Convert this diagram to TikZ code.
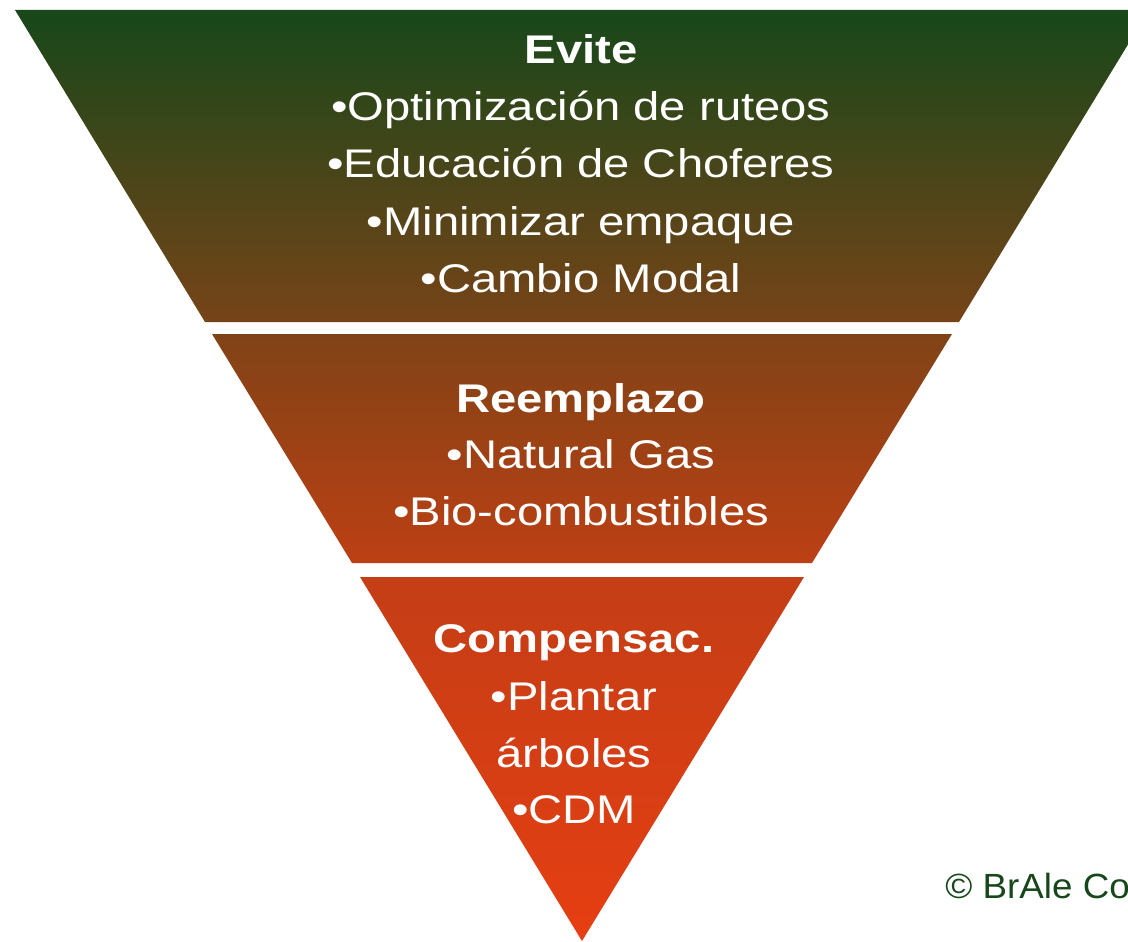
\documentclass[tikz,border=0pt]{standalone}
\usepackage{fontspec}
\setmainfont[FakeStretch=1.18]{Liberation Sans}
\newfontfamily\creditfont[FakeStretch=1.05]{Liberation Sans}
\usepackage{xcolor}
\definecolor{mygreen}{RGB}{23,71,26}
\definecolor{mybrown}{RGB}{118,68,24}
\definecolor{myrust}{RGB}{128,67,22}
\definecolor{myrustdark}{RGB}{188,64,20}
\definecolor{myred}{RGB}{196,62,22}
\definecolor{myorange}{RGB}{230,62,18}
\tikzset{
  layer top/.style={top color=mygreen,bottom color=mybrown},
  layer mid/.style={top color=myrust,bottom color=myrustdark},
  layer low/.style={top color=myred,bottom color=myorange},
  lay title/.style={anchor=base,inner sep=0,text=white,font=\fontsize{20}{24}\selectfont\bfseries},
  lay item/.style={anchor=base,inner sep=0,text=white,font=\fontsize{20}{24}\selectfont},
  credit/.style={anchor=base west,inner sep=0,text=mygreen,font=\creditfont\fontsize{17.5}{21}\selectfont}
}

\begin{document}
\begin{tikzpicture}[x=0.5pt,y=-0.5pt]
\useasboundingbox (0,0) rectangle (1128,941);
\clip (0,0) rectangle (1128,941);
% the three layers of the inverted pyramid
\shade[layer top] (15,10) -- (1149,10) -- (959,322) -- (205,322) -- cycle;
\shade[layer mid] (212,334) -- (952,334) -- (812,563) -- (352,563) -- cycle;
\shade[layer low] (360,577) -- (804,577) -- (582,941) -- cycle;
\path
(581,64)  node[lay title] (evite)  {Evite}
(581,121) node[lay item]  (evite1) {•Optimización de ruteos}
(581,178) node[lay item]  (evite2) {•Educación de Choferes}
(581,235) node[lay item]  (evite3) {•Minimizar empaque}
(581,292) node[lay item]  (evite4) {•Cambio Modal}
(581,412) node[lay title] (reem)   {Reemplazo}
(581,468) node[lay item]  (reem1)  {•Natural Gas}
(581,525) node[lay item]  (reem2)  {•Bio-combustibles}
(574,652) node[lay title] (comp)   {Compensac.}
(574,710) node[lay item]  (comp1)  {•Plantar}
(574,767) node[lay item]  (comp2)  {árboles}
(574,823) node[lay item]  (comp3)  {•CDM}
(945,898) node[credit]    (brale)  {© BrAle Co};
\end{tikzpicture}
\end{document}
